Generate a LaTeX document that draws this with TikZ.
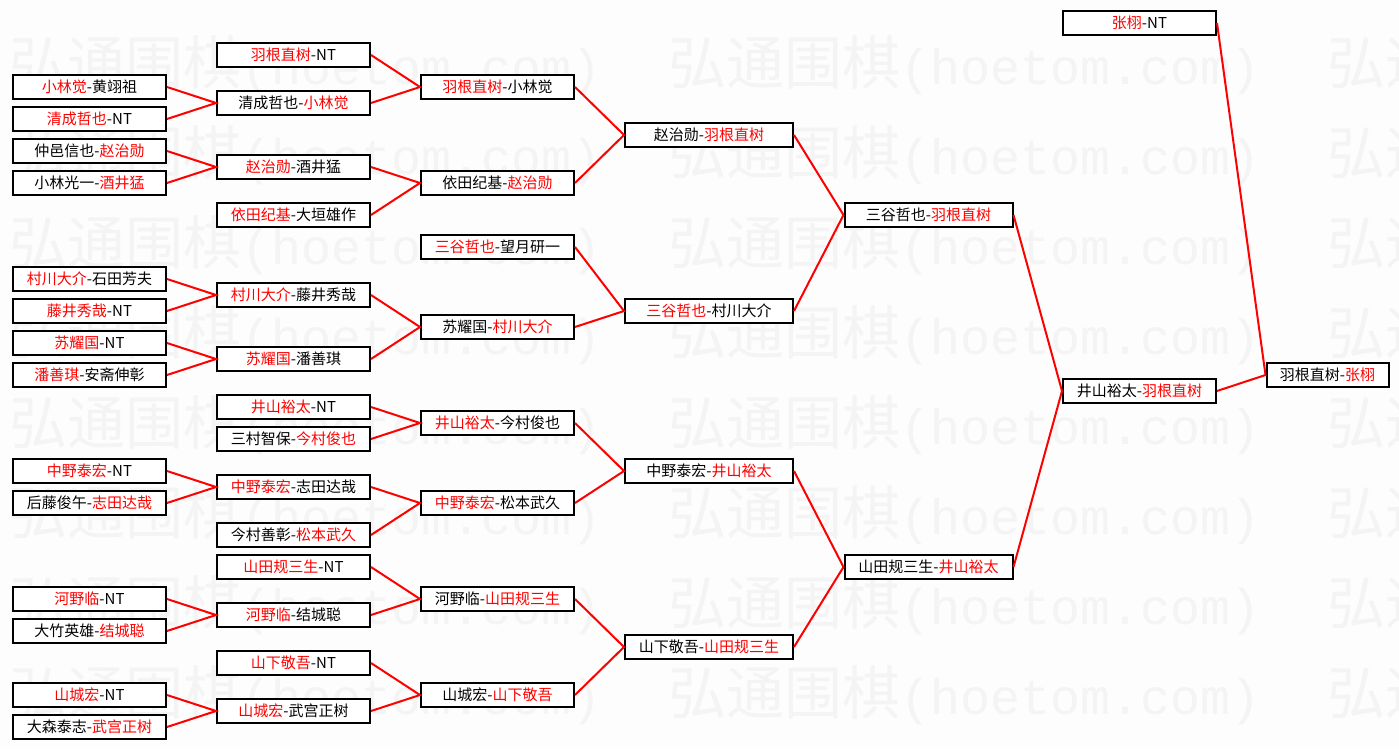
\documentclass[tikz,border=0pt]{standalone}
\usepackage{fontspec}
\newfontfamily\cjk{Noto Sans CJK SC}
\newfontfamily\wmmono{Liberation Mono}
\usepackage{tikz}
\definecolor{wmgray}{RGB}{244,244,244}
\definecolor{bggray}{RGB}{253,253,253}
\newcommand{\winner}[1]{\textcolor{red}{#1}}

\tikzset{
  player/.style={draw=black, line width=2pt, fill=white, inner sep=0pt,
    minimum height=24pt, minimum width=153pt,
    font=\cjk\fontsize{15}{16}\selectfont},
  widebox/.style={player, minimum width=168pt},
  finalbox/.style={player, minimum width=122pt},
  result/.style={draw=red, line width=2pt},
  watermark/.style={anchor=west, text=wmgray, inner sep=0pt}
}

\begin{document}
\begin{tikzpicture}[x=1pt,y=-1pt]
  \fill[bggray] (0,0) rectangle (1399,749);
  \useasboundingbox (0,0) rectangle (1399,749);
  \foreach \y in {65,155,...,695}
    \foreach \x in {9,668,1327}
      \node[watermark] at (\x,\y) {{\cjk\fontsize{58}{60}\selectfont 弘通围棋}{\wmmono\fontsize{50}{60}\selectfont (hoetom.com)}};

  \node[player] (a1) at (89.5,87) {\winner{小林觉}-黄翊祖};
  \node[player] (a2) at (89.5,119) {\winner{清成哲也}-NT};
  \node[player] (a3) at (89.5,151) {仲邑信也-\winner{赵治勋}};
  \node[player] (a4) at (89.5,183) {小林光一-\winner{酒井猛}};
  \node[player] (a5) at (89.5,279) {\winner{村川大介}-石田芳夫};
  \node[player] (a6) at (89.5,311) {\winner{藤井秀哉}-NT};
  \node[player] (a7) at (89.5,343) {\winner{苏耀国}-NT};
  \node[player] (a8) at (89.5,375) {\winner{潘善琪}-安斋伸彰};
  \node[player] (a9) at (89.5,471) {\winner{中野泰宏}-NT};
  \node[player] (a10) at (89.5,503) {后藤俊午-\winner{志田达哉}};
  \node[player] (a11) at (89.5,599) {\winner{河野临}-NT};
  \node[player] (a12) at (89.5,631) {大竹英雄-\winner{结城聪}};
  \node[player] (a13) at (89.5,695) {\winner{山城宏}-NT};
  \node[player] (a14) at (89.5,727) {大森泰志-\winner{武宫正树}};

  \node[player] (b1) at (293.5,55) {\winner{羽根直树}-NT};
  \node[player] (b2) at (293.5,103) {清成哲也-\winner{小林觉}};
  \node[player] (b3) at (293.5,167) {\winner{赵治勋}-酒井猛};
  \node[player] (b4) at (293.5,215) {\winner{依田纪基}-大垣雄作};
  \node[player] (b5) at (293.5,295) {\winner{村川大介}-藤井秀哉};
  \node[player] (b6) at (293.5,359) {\winner{苏耀国}-潘善琪};
  \node[player] (b7) at (293.5,407) {\winner{井山裕太}-NT};
  \node[player] (b8) at (293.5,439) {三村智保-\winner{今村俊也}};
  \node[player] (b9) at (293.5,487) {\winner{中野泰宏}-志田达哉};
  \node[player] (b10) at (293.5,535) {今村善彰-\winner{松本武久}};
  \node[player] (b11) at (293.5,567) {\winner{山田规三生}-NT};
  \node[player] (b12) at (293.5,615) {\winner{河野临}-结城聪};
  \node[player] (b13) at (293.5,663) {\winner{山下敬吾}-NT};
  \node[player] (b14) at (293.5,711) {\winner{山城宏}-武宫正树};

  \node[player] (c1) at (497.5,87) {\winner{羽根直树}-小林觉};
  \node[player] (c2) at (497.5,183) {依田纪基-\winner{赵治勋}};
  \node[player] (c3) at (497.5,247) {\winner{三谷哲也}-望月研一};
  \node[player] (c4) at (497.5,327) {苏耀国-\winner{村川大介}};
  \node[player] (c5) at (497.5,423) {\winner{井山裕太}-今村俊也};
  \node[player] (c6) at (497.5,503) {\winner{中野泰宏}-松本武久};
  \node[player] (c7) at (497.5,599) {河野临-\winner{山田规三生}};
  \node[player] (c8) at (497.5,695) {山城宏-\winner{山下敬吾}};

  \node[widebox] (d1) at (709,135) {赵治勋-\winner{羽根直树}};
  \node[widebox] (d2) at (709,311) {\winner{三谷哲也}-村川大介};
  \node[widebox] (d3) at (709,471) {中野泰宏-\winner{井山裕太}};
  \node[widebox] (d4) at (709,647) {山下敬吾-\winner{山田规三生}};

  \node[widebox] (e1) at (928.5,215) {三谷哲也-\winner{羽根直树}};
  \node[widebox] (e2) at (928.5,567) {山田规三生-\winner{井山裕太}};

  \node[player] (f1) at (1139.5,23) {\winner{张栩}-NT};
  \node[player] (f2) at (1139.5,391) {井山裕太-\winner{羽根直树}};

  \node[finalbox] (g1) at (1327.5,375) {羽根直树-\winner{张栩}};

  \draw[result] (a1.east) -- (b2.west) -- (a2.east);
  \draw[result] (a3.east) -- (b3.west) -- (a4.east);
  \draw[result] (a5.east) -- (b5.west) -- (a6.east);
  \draw[result] (a7.east) -- (b6.west) -- (a8.east);
  \draw[result] (a9.east) -- (b9.west) -- (a10.east);
  \draw[result] (a11.east) -- (b12.west) -- (a12.east);
  \draw[result] (a13.east) -- (b14.west) -- (a14.east);

  \draw[result] (b1.east) -- (c1.west) -- (b2.east);
  \draw[result] (b3.east) -- (c2.west) -- (b4.east);
  \draw[result] (b5.east) -- (c4.west) -- (b6.east);
  \draw[result] (b7.east) -- (c5.west) -- (b8.east);
  \draw[result] (b9.east) -- (c6.west) -- (b10.east);
  \draw[result] (b11.east) -- (c7.west) -- (b12.east);
  \draw[result] (b13.east) -- (c8.west) -- (b14.east);

  \draw[result] (c1.east) -- (d1.west) -- (c2.east);
  \draw[result] (c3.east) -- (d2.west) -- (c4.east);
  \draw[result] (c5.east) -- (d3.west) -- (c6.east);
  \draw[result] (c7.east) -- (d4.west) -- (c8.east);

  \draw[result] (d1.east) -- (e1.west) -- (d2.east);
  \draw[result] (d3.east) -- (e2.west) -- (d4.east);

  \draw[result] (e1.east) -- (f2.west) -- (e2.east);

  \draw[result] (f1.east) -- (g1.west) -- (f2.east);
\end{tikzpicture}
\end{document}
